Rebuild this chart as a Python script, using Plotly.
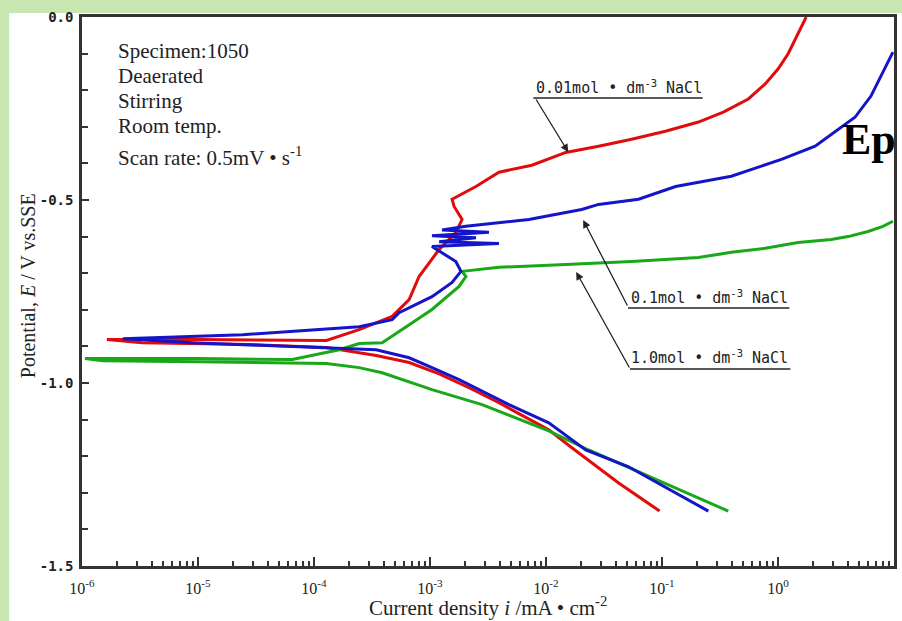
import plotly.graph_objects as go

# ---------------- data (current density i in mA/cm2, potential E in V vs SSE) ----------------
red_i = [0.0953, 0.0423, 0.0167, 0.01057, 3.93e-3, 2.17e-3, 1.20e-3, 6.61e-4, 3.44e-4, 1.28e-4,
         2.79e-5, 3.28e-6, 1.64e-6, 1.03e-5, 1.28e-4, 2.45e-4, 4.72e-4, 6.61e-4, 8.05e-4, 1.20e-3,
         1.67e-3, 1.89e-3, 1.61e-3, 1.55e-3, 2.49e-3, 3.93e-3, 7.55e-3, 0.0148, 0.0284, 0.0547,
         0.107, 0.206, 0.338, 0.555, 0.776, 1.00, 1.22, 1.41, 1.58, 1.75]
red_E = [-1.350, -1.273, -1.177, -1.128, -1.054, -1.013, -0.975, -0.944, -0.925, -0.903,
         -0.895, -0.890, -0.881, -0.881, -0.884, -0.854, -0.818, -0.772, -0.709, -0.635,
         -0.589, -0.553, -0.517, -0.498, -0.463, -0.424, -0.405, -0.370, -0.353, -0.334,
         -0.312, -0.287, -0.260, -0.224, -0.183, -0.142, -0.101, -0.060, -0.025, 0.0]

blue_i = [0.251, 0.0515, 0.0220, 0.01057, 4.79e-3, 1.78e-3, 1.04e-3, 6.61e-4, 3.44e-4, 9.0e-6,
          2.25e-6, 2.42e-5, 2.45e-4, 4.72e-4, 5.42e-4, 1.04e-3, 1.55e-3, 1.85e-3, 1.67e-3, 1.27e-3,
          1.04e-3, 3.93e-3, 1.20e-3, 2.49e-3, 1.04e-3, 3.22e-3, 1.27e-3, 2.04e-3, 7.11e-3, 0.0203,
          0.0284, 0.0628, 0.131, 0.396, 1.07, 2.09, 3.30, 4.61, 6.33, 7.71, 8.87, 9.79]
blue_E = [-1.350, -1.229, -1.183, -1.109, -1.059, -0.991, -0.958, -0.931, -0.909, -0.890,
          -0.879, -0.868, -0.846, -0.827, -0.808, -0.764, -0.725, -0.695, -0.668, -0.643,
          -0.627, -0.619, -0.614, -0.603, -0.598, -0.588, -0.582, -0.572, -0.553, -0.526,
          -0.512, -0.498, -0.463, -0.435, -0.389, -0.353, -0.307, -0.274, -0.216, -0.162, -0.120, -0.096]

green_i = [0.373, 0.0515, 0.0233, 0.01057, 2.81e-3, 1.04e-3, 3.87e-4, 2.45e-4, 1.28e-4, 1.03e-5,
           1.52e-6, 1.06e-6, 1.03e-5, 6.5e-5, 1.65e-4, 2.45e-4, 3.87e-4, 6.24e-4, 1.04e-3, 1.78e-3,
           2.04e-3, 1.89e-3, 3.93e-3, 0.0148, 0.0547, 0.206, 0.396, 0.776, 1.49, 2.87,
           4.02, 5.97, 8.03, 9.79]
green_E = [-1.350, -1.232, -1.183, -1.131, -1.059, -1.018, -0.972, -0.958, -0.947, -0.942,
           -0.939, -0.933, -0.933, -0.936, -0.909, -0.892, -0.890, -0.846, -0.799, -0.736,
           -0.709, -0.695, -0.684, -0.676, -0.668, -0.657, -0.643, -0.632, -0.616, -0.608,
           -0.600, -0.586, -0.572, -0.558]

x_tickvals = [1e-6, 1e-5, 1e-4, 1e-3, 1e-2, 1e-1, 1e0, 1e1]
x_ticktext = ["10<sup>-6</sup>", "10<sup>-5</sup>", "10<sup>-4</sup>", "10<sup>-3</sup>",
              "10<sup>-2</sup>", "10<sup>-1</sup>", "10<sup>0</sup>", "10<sup>1</sup>"]
y_tickvals = [0.0, -0.5, -1.0, -1.5]
y_ticktext = ["0.0", "-0.5", "-1.0", "-1.5"]

info_lines = ["Specimen:1050", "Deaerated", "Stirring", "Room temp.",
              "Scan rate: 0.5mV • s<sup>-1</sup>"]
label_001 = "0.01mol • dm<sup>-3</sup> NaCl"
label_01 = "0.1mol • dm<sup>-3</sup> NaCl"
label_10 = "1.0mol • dm<sup>-3</sup> NaCl"

# ---------------- layout helpers (pixel -> paper) ----------------
W, H = 902, 621
L, R, T, B = 82, 5, 17, 55
PW, PH = W - L - R, H - T - B


def px(x):
    return (x - L) / PW


def py(y):
    return (H - B - y) / PH


fig = go.Figure()
for xs, ys, col in [(red_i, red_E, "#e10b0b"), (green_i, green_E, "#18a818"), (blue_i, blue_E, "#1414c8")]:
    fig.add_trace(go.Scatter(x=xs, y=ys, mode="lines", line=dict(color=col, width=3),
                             showlegend=False, hoverinfo="skip"))

axcol = "#333333"
minor_x = [k * 10.0 ** d for d in range(-6, 1) for k in range(2, 10)]

fig.update_layout(
    width=W, height=H, autosize=False,
    margin=dict(l=L, r=R, t=T, b=B),
    paper_bgcolor="#c8e7b0", plot_bgcolor="white",
    xaxis=dict(type="log", range=[-6, 1], showline=True, mirror=True, linecolor=axcol, linewidth=2.5,
               ticks="inside", ticklen=9, tickwidth=1.5, tickcolor=axcol,
               tickmode="array", tickvals=x_tickvals, ticktext=x_ticktext,
               tickfont=dict(family="Liberation Serif", size=16, color="#222"),
               ticklabelstandoff=6,
               showgrid=False, zeroline=False,
               minor=dict(ticks="inside", ticklen=5, tickwidth=1.5, tickcolor=axcol,
                          tickmode="array", tickvals=minor_x, showgrid=False)),
    yaxis=dict(range=[-1.5, 0.0], showline=True, mirror=True, linecolor=axcol, linewidth=2.5,
               ticks="inside", ticklen=7, tickwidth=1.5, tickcolor=axcol,
               tickmode="array", tickvals=y_tickvals, ticktext=y_ticktext,
               tickfont=dict(family="DejaVu Sans Mono", size=14, color="#222", weight="bold"),
               ticklabelstandoff=3,
               showgrid=False, zeroline=False,
               minor=dict(ticks="inside", ticklen=6, tickwidth=1.5, tickcolor=axcol,
                          dtick=0.1, tick0=0, showgrid=False)),
)

shapes = [
    dict(type="rect", xref="paper", yref="paper", x0=px(9), x1=px(910), y0=py(13), y1=py(630),
         fillcolor="white", line=dict(width=0), layer="below"),
    dict(type="line", xref="paper", yref="paper", x0=px(535), x1=px(705), y0=py(98), y1=py(98),
         line=dict(color="#222", width=1.5)),
    dict(type="line", xref="paper", yref="paper", x0=px(630), x1=px(792), y0=py(308), y1=py(308),
         line=dict(color="#222", width=1.5)),
    dict(type="line", xref="paper", yref="paper", x0=px(632), x1=px(793), y0=py(369), y1=py(369),
         line=dict(color="#222", width=1.5)),
]

serif = "Liberation Serif"
ann = []
for txt, yy in zip(info_lines, [51, 76, 101, 126, 156]):
    ann.append(dict(text=txt, xref="paper", yref="paper", x=px(116), y=py(yy), xanchor="left",
                    yanchor="middle", showarrow=False, font=dict(family=serif, size=21, color="#222")))

mono = dict(family="DejaVu Sans Mono", size=15, color="#222")
for txt, xx, yy in [(label_001, 536, 87), (label_01, 631, 297), (label_10, 631, 357)]:
    ann.append(dict(text=txt, xref="paper", yref="paper", x=px(xx), y=py(yy), xanchor="left",
                    yanchor="middle", showarrow=False, font=mono))

for (hx, hy, tx, ty) in [(570, 152, 537, 98), (585, 220, 630, 307), (578, 272, 632, 369)]:
    ann.append(dict(text="", xref="paper", yref="paper", x=px(hx), y=py(hy), ax=tx - hx, ay=ty - hy,
                    axref="pixel", ayref="pixel", showarrow=True, arrowhead=2, arrowsize=1.2,
                    arrowwidth=1.3, arrowcolor="#222"))

ann.append(dict(text="<b>Ep</b>", xref="paper", yref="paper", x=px(843), y=py(139), xanchor="left",
                yanchor="middle", showarrow=False, font=dict(family=serif, size=44, color="black")))

ann.append(dict(text="Current density <i>i</i> /mA • cm<sup>-2</sup>", xref="paper", yref="paper",
                x=px(489), y=py(606), xanchor="center", yanchor="middle", showarrow=False,
                font=dict(family=serif, size=21, color="#222")))
ann.append(dict(text="Potential, <i>E</i> / V vs.SSE", xref="paper", yref="paper",
                x=px(28), y=py(286), xanchor="center", yanchor="middle", textangle=-90, showarrow=False,
                font=dict(family=serif, size=20, color="#222")))

fig.update_layout(shapes=shapes, annotations=ann)
fig.write_html("out.html", config={"displayModeBar": False},
               post_script="document.body.style.margin='0px';document.body.style.overflow='hidden';")
